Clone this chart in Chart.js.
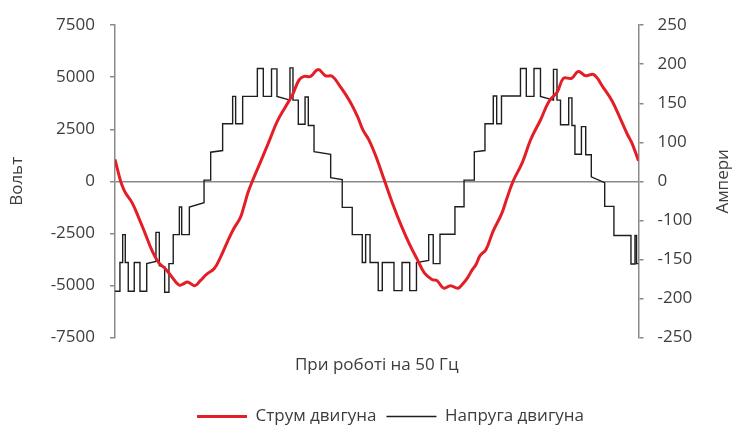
<!DOCTYPE html>
<html>
<head>
<meta charset="utf-8">
<script src="https://cdn.jsdelivr.net/npm/chart.js@4.4.1/dist/chart.umd.min.js"></script>
<style>
html,body{margin:0;padding:0;background:#fff;}
#wrap{width:751px;height:443px;}
</style>
</head>
<body>
<div id="wrap"><canvas id="c" width="751" height="443"></canvas></div>
<script>
// ---- data (time in ms, 50 Hz => 20 ms period) ----
const seriesNames = ['Струм двигуна', 'Напруга двигуна'];
const xTitle = 'При роботі на 50 Гц';
const leftTitle = 'Вольт';
const rightTitle = 'Ампери';
const voltTicks = [-7500, -5000, -2500, 0, 2500, 5000, 7500];
const ampTickLabels = ['-250', '-200', '-150', '-100', '0', '100', '150', '200', '250'];

// motor voltage (V): stepped multilevel waveform vertices
const voltT = [
  0, 0.38, 0.38, 0.59, 0.59, 0.79, 0.79, 1.02, 1.02, 1.48,
  1.48, 1.92, 1.92, 2.44, 2.44, 3.15, 3.15, 3.41, 3.41, 3.82,
  3.82, 4.15, 4.15, 4.48, 4.48, 4.95, 4.95, 5.13, 5.13, 5.72,
  5.72, 6.85, 6.85, 7.36, 7.36, 8.28, 8.28, 9.05, 9.05, 9.28,
  9.28, 9.82, 9.82, 10.95, 10.95, 11.41, 11.41, 12.04, 12.04, 12.46,
  12.46, 13.46, 13.46, 13.69, 13.69, 14.10, 14.10, 14.62, 14.62, 14.87,
  14.87, 15.31, 15.31, 16.59, 16.59, 17.48, 17.48, 18.25, 18.25, 19.02,
  19.02, 19.28, 19.28, 19.62, 19.62, 20.25, 20.25, 20.56, 20.56, 21.46,
  21.46, 22.08, 22.08, 22.67, 22.67, 23.19, 23.19, 24.13, 24.13, 24.48,
  24.48, 25.00, 25.00, 26.15, 26.15, 26.85, 26.85, 27.64, 27.64, 28.46,
  28.46, 29.10, 29.10, 29.36, 29.36, 29.73, 29.73, 31.19, 31.19, 31.64,
  31.64, 32.23, 32.23, 32.73, 32.73, 33.73, 33.73, 34.00, 34.00, 34.27,
  34.27, 34.90, 34.90, 35.15, 35.15, 35.38, 35.38, 35.88, 35.88, 36.21,
  36.21, 36.64, 36.64, 37.67, 37.67, 38.38, 38.38, 39.69, 39.69, 40.00,
  40.00, 40.12, 40.12, 40.27
];
const voltV = [
  -5280, -5280, -3900, -3900, -2560, -2560, -3900, -3900, -5280, -5280,
  -3900, -3900, -5280, -5280, -3950, -3850, -2450, -2450, -4050, -4100,
  -5330, -5330, -3950, -3950, -2560, -2560, -1230, -1230, -2560, -2560,
  -1230, -1030, 60, 60, 1400, 1480, 2770, 2770, 4080, 4080,
  2770, 2770, 4080, 4080, 5420, 5420, 4080, 4080, 5400, 5400,
  4080, 3900, 5450, 5450, 3900, 3900, 2740, 2740, 4050, 4050,
  2680, 2680, 1430, 1300, 180, 90, -1250, -1250, -2560, -2560,
  -3900, -3900, -2560, -2560, -3900, -3900, -5250, -5250, -3900, -3900,
  -5250, -5250, -3900, -3900, -5250, -5250, -3900, -3800, -2560, -2560,
  -3950, -3950, -2540, -2540, -1220, -1220, 60, 60, 1420, 1480,
  2770, 2770, 4100, 4100, 2770, 2770, 4100, 4100, 5420, 5420,
  4080, 4080, 5420, 5420, 4080, 3900, 5380, 5380, 3900, 3900,
  2720, 2720, 4010, 4010, 2680, 2680, 1300, 1300, 2630, 2630,
  1280, 1280, 220, -60, -1200, -1200, -2600, -2600, -3970, -3970,
  -2600, -2600, -3950, -3950
];

// motor current (A)
const currT = [
  0, 0.33, 0.52, 0.79, 1.31, 1.82, 2.33, 2.85, 3.36, 3.87,
  4.38, 4.92, 5.28, 5.58, 6.13, 6.56, 7.08, 7.62, 8.10, 8.62,
  9.13, 9.64, 9.92, 10.23, 10.56, 11.21, 11.85, 12.48, 13.13, 13.64,
  14.15, 14.54, 15.05, 15.62, 16.20, 16.72, 17.35, 18.04, 18.65, 19.08,
  19.54, 20.09, 20.75, 21.38, 22.02, 22.66, 23.25, 23.81, 24.38, 24.77,
  25.29, 25.81, 26.38, 26.79, 27.13, 27.44, 27.77, 28.08, 28.54, 29.08,
  29.72, 30.15, 30.62, 31.33, 31.98, 32.75, 33.38, 34.02, 34.50, 35.12,
  35.63, 36.21, 36.82, 37.54, 38.23, 38.88, 39.42, 39.75, 40.27
];
const currA = [
  35, 8, -5, -18, -34, -58, -84, -111, -130, -140,
  -153, -166, -164, -161, -167, -159, -148, -140, -122, -98,
  -76, -58, -40, -18, 0, 32, 64, 96, 120, 138,
  162, 168, 168, 179, 169, 168, 151, 129, 104, 82,
  66, 39, 0, -37, -71, -101, -125, -147, -157, -159,
  -171, -167, -171, -163, -154, -143, -133, -119, -109, -80,
  -53, -27, 0, 30, 67, 99, 128, 143, 165, 165,
  176, 169, 171, 151, 129, 100, 75, 62, 33
];

// ---- styles ----
const FONT = '"Open Sans", "Noto Sans", sans-serif';
const TEXT = '#3d3d3d';
const AXIS = '#8a8a8a';
const RED = '#E41E26';
const BLACK = '#1e1e1e';

const rightTitlePlugin = {
  id: 'rightTitle',
  afterDraw(chart) {
    const s = chart.scales.yA;
    const ca = chart.chartArea;
    const ctx = chart.ctx;
    ctx.save();
    ctx.translate(s.right - 28, (ca.top + ca.bottom) / 2);
    ctx.rotate(-Math.PI / 2);
    ctx.font = '17px ' + FONT;
    ctx.fillStyle = TEXT;
    ctx.textAlign = 'center';
    ctx.textBaseline = 'middle';
    ctx.fillText(rightTitle, 0, 0);
    ctx.restore();
  }
};
const legendShift = {
  id: 'legendShift',
  afterLayout(chart) {
    chart.legend.left += 15;
    chart.legend.right += 15;
  }
};

new Chart(document.getElementById('c'), {
  type: 'line',
  data: {
    datasets: [
      {
        label: seriesNames[0],
        data: currT.map((t, i) => ({x: t, y: currA[i]})),
        yAxisID: 'yA',
        borderColor: RED,
        backgroundColor: RED,
        borderWidth: 3,
        pointRadius: 0,
        tension: 0.4
      },
      {
        label: seriesNames[1],
        data: voltT.map((t, i) => ({x: t, y: voltV[i]})),
        yAxisID: 'yV',
        borderColor: BLACK,
        backgroundColor: BLACK,
        borderWidth: 1.4,
        pointRadius: 0,
        tension: 0
      }
    ]
  },
  options: {
    responsive: false,
    animation: false,
    events: [],
    layout: {padding: {left: 0, right: 0, top: 24, bottom: 8}},
    plugins: {
      tooltip: {enabled: false},
      legend: {
        position: 'bottom',
        labels: {
          usePointStyle: true,
          pointStyle: 'line',
          pointStyleWidth: 50,
          padding: 10,
          color: TEXT,
          font: {family: FONT, size: 17}
        }
      }
    },
    scales: {
      x: {
        type: 'linear',
        min: 0,
        max: 40.27,
        ticks: {display: false},
        grid: {display: false},
        border: {display: false},
        title: {display: true, text: xTitle, color: TEXT, font: {family: FONT, size: 17}, padding: {top: 0, bottom: 23}},
        afterFit(s) { s.height = 60.5; }
      },
      yV: {
        type: 'linear',
        position: 'left',
        min: -7500,
        max: 7500,
        afterBuildTicks(s) { s.ticks = voltTicks.map(v => ({value: v})); },
        ticks: {
          autoSkip: false,
          padding: 15,
          color: TEXT,
          font: {family: FONT, size: 17},
          callback: v => String(v)
        },
        grid: {
          drawOnChartArea: true,
          drawTicks: true,
          tickLength: 5,
          color: c => (c.tick && c.tick.value === 0 ? AXIS : 'rgba(0,0,0,0)'),
          tickColor: AXIS,
          lineWidth: 1.5
        },
        border: {display: true, color: AXIS, width: 1.5},
        title: {display: true, text: leftTitle, color: TEXT, font: {family: FONT, size: 17}, padding: {top: 7, bottom: 0}},
        afterFit(s) { s.width = 115; }
      },
      yA: {
        type: 'linear',
        position: 'right',
        min: -250,
        max: 250,
        ticks: {
          stepSize: 62.5,
          autoSkip: false,
          padding: 14,
          color: TEXT,
          font: {family: FONT, size: 17},
          callback: (v, i) => ampTickLabels[i]
        },
        grid: {drawOnChartArea: false, drawTicks: true, tickLength: 5, color: AXIS, lineWidth: 1.5},
        border: {display: true, color: AXIS, width: 1.5},
        afterFit(s) { s.width = 112.5; }
      }
    }
  },
  plugins: [rightTitlePlugin, legendShift]
});
</script>
</body>
</html>
